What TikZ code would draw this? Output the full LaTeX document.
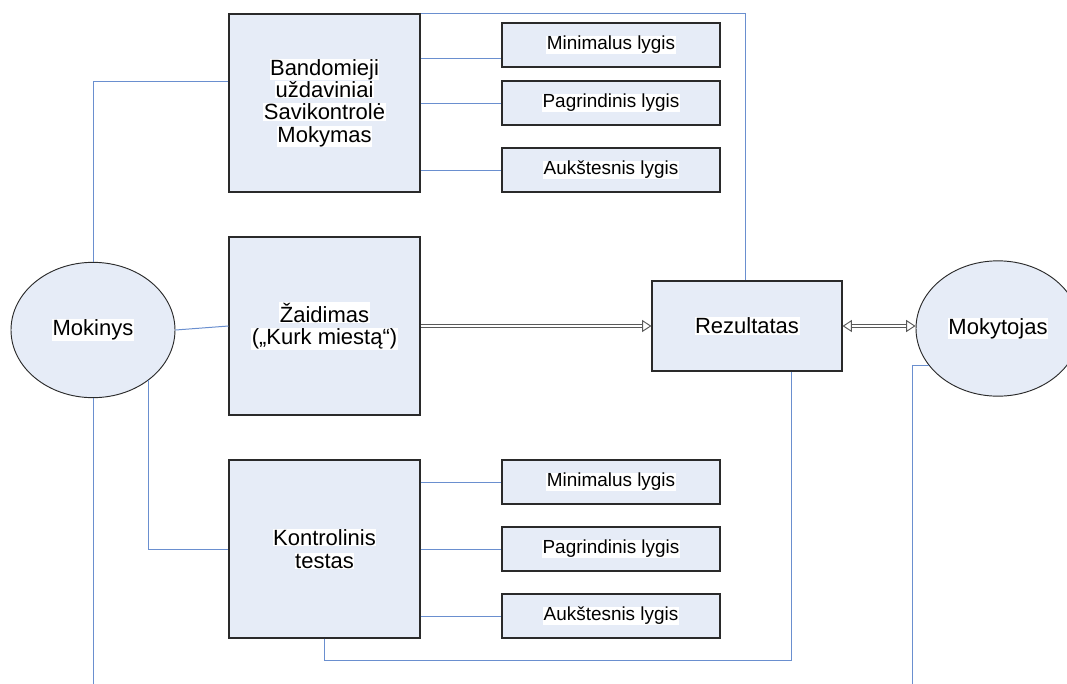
\documentclass[tikz,border=0pt]{standalone}
\usepackage{fontspec}
\setmainfont{Liberation Sans}
\usetikzlibrary{arrows.meta,shapes.geometric}
\definecolor{boxfill}{HTML}{E6ECF7}
\definecolor{linkblue}{HTML}{6A8FCF}
\definecolor{boxline}{HTML}{2A2A2A}
\newcommand\hl[1]{{\setlength{\fboxsep}{0.4pt}\colorbox{white}{#1}}}
\tikzset{
  bigbox/.style={draw=boxline, fill=boxfill, line width=0.8pt, minimum width=143.25pt, minimum height=133.5pt, inner sep=0pt, align=center, font=\fontsize{16.5}{16.8}\selectfont},
  lvlbox/.style={draw=boxline, fill=boxfill, line width=0.9pt, minimum width=163.5pt, minimum height=33pt, inner sep=0pt, font=\fontsize{14.2}{16}\selectfont},
  resbox/.style={draw=boxline, fill=boxfill, line width=0.8pt, minimum width=142.5pt, minimum height=67.5pt, inner sep=0pt, font=\fontsize{16.5}{16.8}\selectfont},
  actor/.style={ellipse, draw=boxline, fill=boxfill, line width=0.7pt, minimum width=123pt, minimum height=101.5pt, inner sep=0pt, font=\fontsize{16.5}{16.8}\selectfont},
  link/.style={draw=linkblue, line width=0.75pt},
  dbl/.style={draw=black!65, line width=0.6pt, double=white, double distance=1.6pt},
  dtip/.tip={Triangle[open, length=7pt, width=9pt, line width=0.7pt]}
}
\begin{document}
\begin{tikzpicture}[x=0.75pt, y=-0.75pt]
\useasboundingbox (0,0) rectangle (1067,683);
\clip (0,0) rectangle (1067,683);

% nodes
\node[actor] (mok) at (93,330) {\hl{Mokinys}};
\node[actor] (moky) at (998,328.5) {\hl{Mokytojas}};
\node[bigbox] (box1) at (324.5,103) {\hl{Bandomieji}\\\hl{uždaviniai}\\\hl{Savikontrolė}\\\hl{Mokymas}};
\node[bigbox] (box2) at (324.5,326) {\hl{Žaidimas}\\\hl{(„Kurk miestą“)}};
\node[bigbox] (box3) at (324.5,549) {\hl{Kontrolinis}\\\hl{testas}};
\node[lvlbox] (s1) at (611,45) {\hl{Minimalus lygis}};
\node[lvlbox] (s2) at (611,103) {\hl{Pagrindinis lygis}};
\node[lvlbox] (s3) at (611,170) {\hl{Aukštesnis lygis}};
\node[lvlbox] (s4) at (611,482) {\hl{Minimalus lygis}};
\node[lvlbox] (s5) at (611,549) {\hl{Pagrindinis lygis}};
\node[lvlbox] (s6) at (611,616) {\hl{Aukštesnis lygis}};
\node[resbox] (rez) at (747,326) {\hl{Rezultatas}};

% free ends
\coordinate (b1in) at ([yshift=16.5pt]box1.west);
\coordinate (s1a) at ([yshift=-9.75pt]s1.west);
\coordinate (rtop) at ([xshift=-1.5pt]rez.north);
\coordinate (rb) at ([xshift=33pt]rez.south);
\coordinate (mokend) at (93,690);
\coordinate (mokyend) at (912,690);

% blue connectors
\draw[link] (mok.north) |- (b1in);
\draw[link] (mok.east) -- (box2.west);
\draw[link] (mok.-42) |- (box3.west);
\draw[link] (mok.south) -- (mokend);
\draw[link] (s1a -| box1.east) -- (s1a);
\draw[link] (s2.west -| box1.east) -- (s2.west);
\draw[link] (s3.west -| box1.east) -- (s3.west);
\draw[link] (s4.west -| box3.east) -- (s4.west);
\draw[link] (s5.west -| box3.east) -- (s5.west);
\draw[link] (s6.west -| box3.east) -- (s6.west);
\draw[link] (box1.north east) -| (rtop);
\draw[link] (box3.south) -- ++(0,22) -| (rb);
\draw[link] (moky.208) -| (mokyend);

% double arrows
\draw[dbl, -dtip] (box2.east) -- (rez.west);
\draw[dbl, dtip-dtip] (rez.east) -- (rez.east -| moky.west);
\end{tikzpicture}
\end{document}
